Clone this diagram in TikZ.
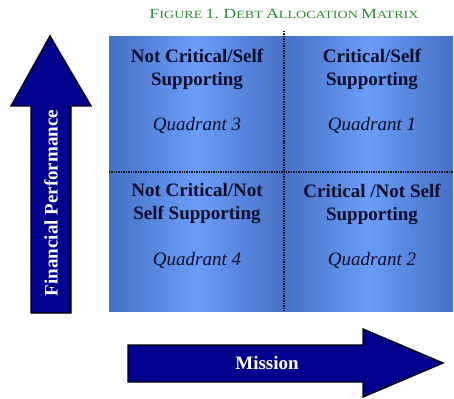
\documentclass[tikz,border=0pt]{standalone}
\usepackage{fontspec}
\usepackage{graphicx}
\setmainfont{Liberation Serif}
\definecolor{qdark}{HTML}{4670C4}
\definecolor{qlight}{HTML}{6A9CF8}
\definecolor{arrowblue}{HTML}{00008E}
\definecolor{qtext}{HTML}{0C0C28}
\definecolor{titlegreen}{HTML}{2E8B34}
\newcommand{\bigc}[1]{{\fontsize{14}{15}\selectfont #1}}
\newcommand{\smc}[1]{{\fontsize{11}{15}\selectfont #1}}
\tikzset{
  col/.style={left color=qdark, right color=qdark, middle color=qlight, draw=none},
  divider/.style={line width=1.7pt, dash pattern=on 1pt off 0.7pt, black!90},
  bigarrow/.style={fill=arrowblue, draw=black, line width=1.4pt, line join=miter},
  qhead/.style={font=\fontsize{19}{23}\selectfont\bfseries, text=qtext, align=center, inner sep=0pt},
  qsub/.style={font=\fontsize{19}{23}\selectfont\itshape, text=qtext, inner sep=0pt},
  arrowtext/.style={font=\fontsize{19}{23}\selectfont\bfseries, text=white, inner sep=0pt},
}
\begin{document}
\begin{tikzpicture}[x=1pt, y=-1pt]
\useasboundingbox (0,0) rectangle (454,398);
% title
\node[text=titlegreen, inner sep=0pt] (title) at (284,14) {\resizebox{269pt}{\height}{\bigc{F}\smc{IGURE} \bigc{1.} \bigc{D}\smc{EBT} \bigc{A}\smc{LLOCATION} \bigc{M}\smc{ATRIX}}};
% matrix columns
\fill[col] (109,37) rectangle (284,311);
\fill[col] (284,37) rectangle (453,311);
% dividers
\coordinate (vtop) at (284,31);
\coordinate (vbot) at (284,311);
\coordinate (hl) at (109,172);
\coordinate (hr) at (453,172);
\draw[divider] (vtop) -- (vbot);
\draw[divider] (hl) -- (hr);
% quadrant texts
\node[qhead] (q3h) at (197,69) {Not Critical/Self\\Supporting};
\node[qsub] (q3s) at (197,125) {Quadrant 3};
\node[qhead] (q1h) at (372,69) {Critical/Self\\Supporting};
\node[qsub] (q1s) at (372,125) {Quadrant 1};
\node[qhead] (q4h) at (197,204) {Not Critical/Not\\Self Supporting};
\node[qsub] (q4s) at (197,260) {Quadrant 4};
\node[qhead] (q2h) at (372,204) {Critical /Not Self\\Supporting};
\node[qsub] (q2s) at (372,260) {Quadrant 2};
% up arrow
\draw[bigarrow] (50,36) -- (91,106) -- (71,106) -- (71,313) -- (31,313) -- (31,106) -- (11,106) -- cycle;
\node[arrowtext, rotate=90] (fp) at (51,203) {Financial Performance};
% right arrow
\draw[bigarrow] (443,363) -- (363,397) -- (363,382) -- (128,382) -- (128,345) -- (363,345) -- (363,329) -- cycle;
\node[arrowtext] (mi) at (267,363) {Mission};
\end{tikzpicture}
\end{document}
